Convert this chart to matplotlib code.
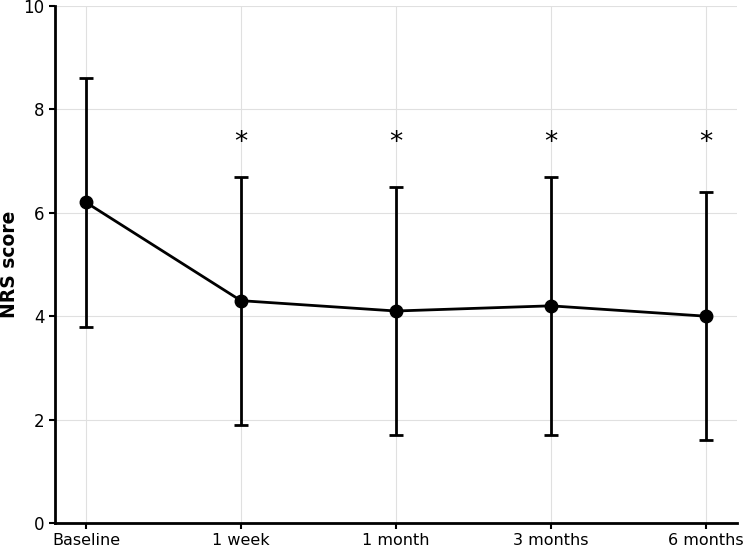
import numpy as np
import matplotlib.pyplot as plt

plt.rcParams['font.family'] = ['DejaVu Sans']

# time points and NRS scores (mean with lower/upper bounds)
timepoints = ['Baseline', '1 week', '1 month', '3 months', '6 months']
nrs_mean = [6.2, 4.3, 4.1, 4.2, 4.0]
nrs_low = [3.8, 1.9, 1.7, 1.7, 1.6]
nrs_high = [8.6, 6.7, 6.5, 6.7, 6.4]
significant = [False, True, True, True, True]

x = np.arange(len(timepoints))
mean = np.array(nrs_mean)
yerr = [mean - np.array(nrs_low), np.array(nrs_high) - mean]

fig = plt.figure(figsize=(7.44, 5.47), dpi=100)
ax = fig.add_axes([0.074, 0.044, 0.916, 0.945])

ax.errorbar(x, mean, yerr=yerr, color='black', linewidth=2, elinewidth=2,
            capsize=5, capthick=2, marker='o', markersize=9, zorder=3)

# significance markers
for xi, sig in zip(x, significant):
    if sig:
        ax.text(xi, 7.35, '*', ha='center', va='center', fontsize=19)

ax.set_xlim(-0.2, 4.2)
ax.set_ylim(0, 10)
ax.set_xticks(x)
ax.set_xticklabels(timepoints, fontsize=11.5)
ax.set_yticks([0, 2, 4, 6, 8, 10])
ax.tick_params(axis='y', labelsize=12)
ax.set_ylabel('NRS score', fontsize=13.5, fontweight='bold')
ax.yaxis.set_label_coords(-0.053, 0.5)
ax.grid(True, color='#e0e0e0', linewidth=0.8)
ax.set_axisbelow(True)
ax.spines['top'].set_visible(False)
ax.spines['right'].set_visible(False)
ax.spines['left'].set_linewidth(2)
ax.spines['bottom'].set_linewidth(2)
ax.tick_params(width=1.5, length=4)

fig.savefig('out.png', dpi=100)
